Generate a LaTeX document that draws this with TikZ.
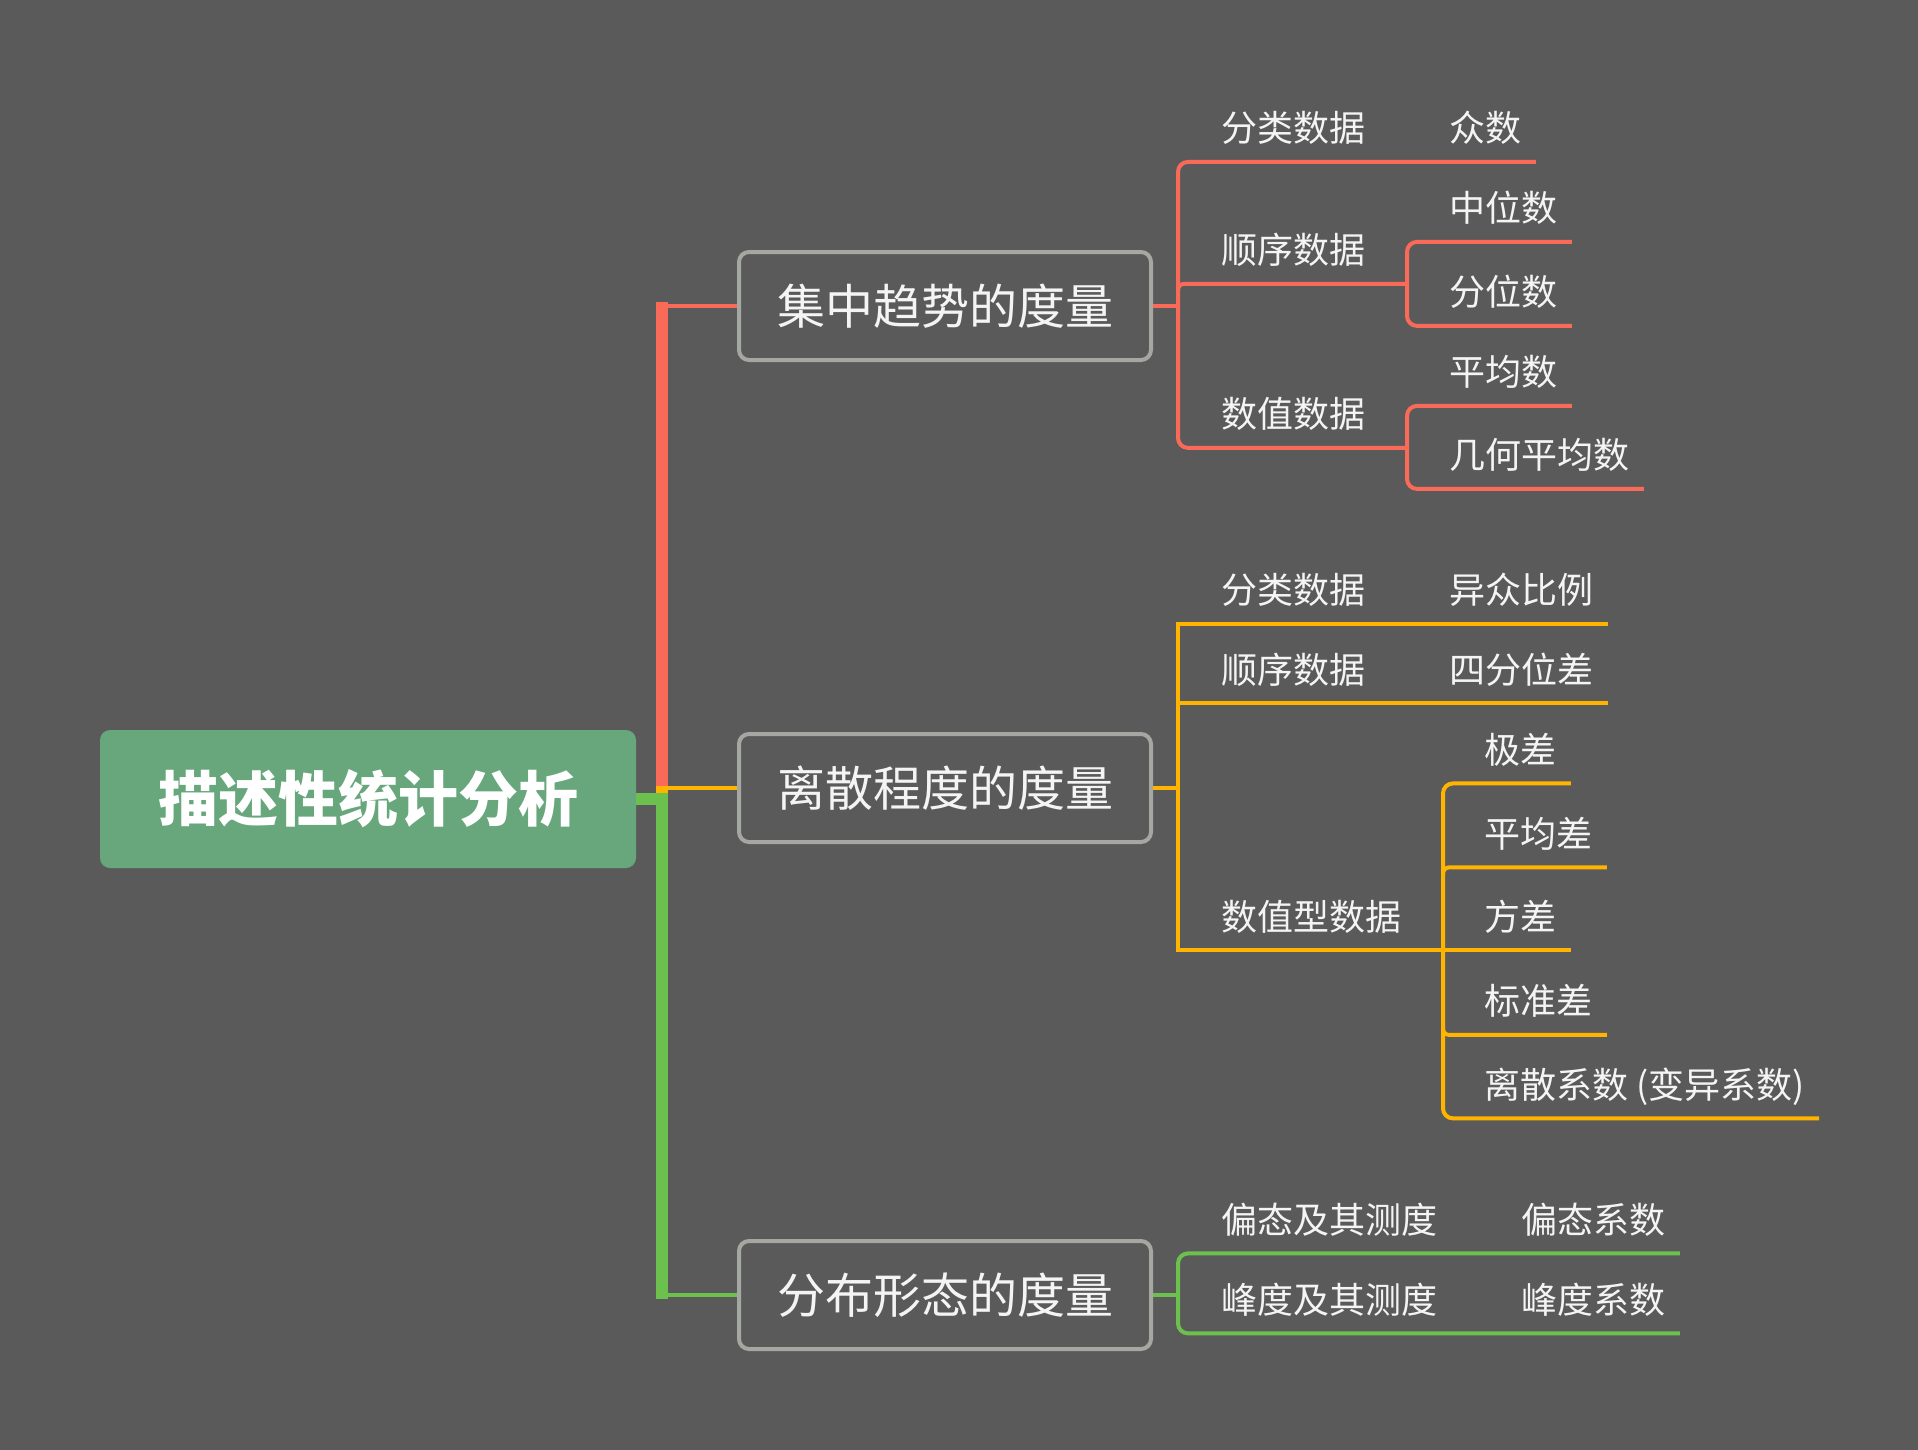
\documentclass[tikz,border=0pt]{standalone}
\usepackage{fontspec}
\setmainfont{Noto Sans CJK SC}
\definecolor{bgc}{HTML}{5A5A5A}
\definecolor{redc}{HTML}{FA6A58}
\definecolor{orangec}{HTML}{FFB400}
\definecolor{greenc}{HTML}{6CC04E}
\definecolor{rootc}{HTML}{68A67C}
\definecolor{framec}{HTML}{A4A7A2}
\definecolor{textc}{HTML}{F4F4F4}
\tikzset{
  rootbox/.style={fill=rootc, rounded corners=5pt, minimum width=268pt, minimum height=69pt,
    text=white, font=\fontsize{30pt}{34pt}\selectfont\bfseries},
  topicbox/.style={draw=framec, fill=bgc, line width=2pt, rounded corners=5pt,
    minimum width=206pt, minimum height=54pt, text=textc, font=\fontsize{24pt}{28pt}\selectfont},
  leaf/.style={anchor=west, inner xsep=0pt, inner ysep=8.5pt, text height=15pt, text depth=1.5pt,
    text=textc, font=\fontsize{18pt}{22pt}\selectfont},
  mainln/.style={line width=6pt},
  subln/.style={line width=2pt},
}
\begin{document}
\begin{tikzpicture}[x=0.5pt,y=-0.5pt]
\fill[bgc] (0,0) rectangle (1918,1450);

\node[rootbox] (root) at (368,799) {描述性统计分析};
\node[topicbox] (b1) at (945,306) {集中趋势的度量};
\node[topicbox] (b2) at (945,788) {离散程度的度量};
\node[topicbox] (b3) at (945,1295) {分布形态的度量};

\coordinate (jt) at (662,786);
\coordinate (jg) at (662,793);
\coordinate (jr) at (1178,0);
\coordinate (kr) at (1407,0);
\coordinate (ko) at (1443,0);

\draw[mainln, redc] ([yshift=2pt]b1.west -| jt) -- (jt);
\draw[mainln, orangec] (jt) -- (jg);
\draw[mainln, greenc] (jg) -- ([yshift=-2pt]b3.west -| jg);
\draw[mainln, greenc] (root.east) -- (root.east -| jt);
\draw[subln, redc] (b1.west -| jt) -- (b1.west);
\draw[subln, orangec] (b2.west -| jt) -- (b2.west);
\draw[subln, greenc] (b3.west -| jt) -- (b3.west);

\node[leaf] (r1) at (1221,128) {分类数据};
\node[leaf] (r1a) at (1449,128) {众数};
\node[leaf] (r2) at (1221,250) {顺序数据};
\node[leaf] (r2a) at (1449,208) {中位数};
\node[leaf] (r2b) at (1449,292) {分位数};
\node[leaf] (r3) at (1221,414) {数值数据};
\node[leaf] (r3a) at (1449,372) {平均数};
\node[leaf] (r3b) at (1449,455) {几何平均数};

\draw[subln, redc] (b1.east) -- (b1.east -| jr);
\draw[subln, redc, rounded corners=5pt] ([xshift=7pt]r1a.south east) -- (r1.south -| jr) -- (r3.south -| jr) -- (r3.south -| kr);
\draw[subln, redc, rounded corners=3pt] ([yshift=-4pt]r2.south -| jr) -- (r2.south -| jr) -- (r2.south -| kr);
\draw[subln, redc, rounded corners=5pt] ([xshift=7pt]r2a.south east) -- (r2a.south -| kr) -- (r2b.south -| kr) -- ([xshift=7pt]r2b.south east);
\draw[subln, redc, rounded corners=5pt] ([xshift=7pt]r3a.south east) -- (r3a.south -| kr) -- (r3b.south -| kr) -- ([xshift=7pt]r3b.south east);

\node[leaf] (o1) at (1221,590) {分类数据};
\node[leaf] (o1a) at (1449,590) {异众比例};
\node[leaf] (o2) at (1221,669.5) {顺序数据};
\node[leaf] (o2a) at (1449,669.5) {四分位差};
\node[leaf] (o3) at (1221,916.5) {数值型数据};
\node[leaf] (o3a) at (1484,749.5) {极差};
\node[leaf] (o3b) at (1484,833.5) {平均差};
\node[leaf] (o3c) at (1484,916.5) {方差};
\node[leaf] (o3d) at (1484,1001) {标准差};
\node[leaf] (o3e) at (1484,1084.5) {离散系数 (变异系数)};

\draw[subln, orangec] (b2.east) -- (b2.east -| jr);
\draw[subln, orangec] ([xshift=7pt]o1a.south east) -- (o1.south -| jr) -- (o3.south -| jr) -- ([xshift=7pt]o3c.south east);
\draw[subln, orangec] (o2.south -| jr) -- ([xshift=7pt]o2a.south east);
\draw[subln, orangec, rounded corners=5pt] ([xshift=7pt]o3a.south east) -- (o3a.south -| ko) -- (o3e.south -| ko) -- ([xshift=7pt]o3e.south east);
\draw[subln, orangec, rounded corners=3pt] ([yshift=-4pt]o3b.south -| ko) -- (o3b.south -| ko) -- ([xshift=7pt]o3b.south east);
\draw[subln, orangec, rounded corners=3pt] ([yshift=4pt]o3d.south -| ko) -- (o3d.south -| ko) -- ([xshift=7pt]o3d.south east);

\node[leaf] (g1) at (1221,1219.5) {偏态及其测度};
\node[leaf] (g1a) at (1521,1219.5) {偏态系数};
\node[leaf] (g2) at (1221,1299.5) {峰度及其测度};
\node[leaf] (g2a) at (1521,1299.5) {峰度系数};

\draw[subln, greenc] (b3.east) -- (b3.east -| jr);
\draw[subln, greenc, rounded corners=5pt] ([xshift=7pt]g1a.south east) -- (g1.south -| jr) -- (g2.south -| jr) -- ([xshift=7pt]g2a.south east);
\end{tikzpicture}
\end{document}
